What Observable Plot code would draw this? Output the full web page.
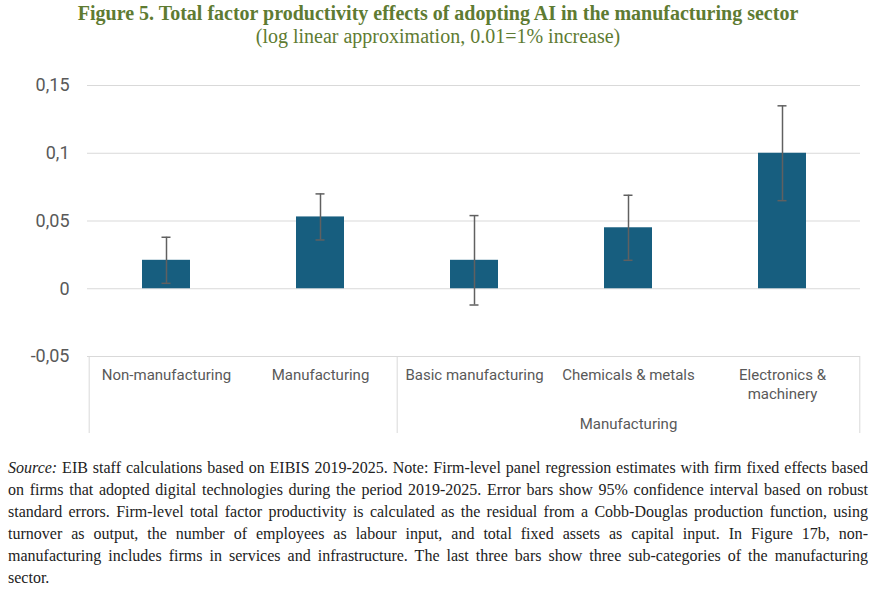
<!DOCTYPE html>
<html>
<head>
<meta charset="utf-8">
<script src="https://cdn.jsdelivr.net/npm/d3@7"></script>
<script src="https://cdn.jsdelivr.net/npm/@observablehq/plot@0.6"></script>
<style>
  html, body { margin: 0; padding: 0; background: #fff; }
  body { width: 876px; }
  #title { height: 60px; text-align: center; color: #5e7b32; font-family: "Liberation Serif", serif; }
  #title .t { font-size: 20px; font-weight: bold; line-height: 20px; padding-top: 3px; }
  #title .s { font-size: 20px; line-height: 21px; margin-top: 3px; }
  #chart svg { display: block; }
  #note { margin-top: 17px; padding: 0 8px; font-family: "Liberation Serif", serif; font-size: 16px; line-height: 22px; color: #222; }
  #note div { text-align: justify; text-align-last: justify; white-space: nowrap; }
  #note div.last { text-align-last: left; }
</style>
</head>
<body>
<div id="title">
  <div class="t">Figure 5. Total factor productivity effects of adopting AI in the manufacturing sector</div>
  <div class="s">(log linear approximation, 0.01=1% increase)</div>
</div>
<div id="chart"></div>
<div id="note"></div>
<script>
// ---- data ----
const categories = ["Non-manufacturing", "Manufacturing", "Basic manufacturing", "Chemicals & metals", "Electronics & machinery"];
const categoryLabels = ["Non-manufacturing", "Manufacturing", "Basic manufacturing", "Chemicals & metals", "Electronics &\nmachinery"];
const values = [0.021, 0.053, 0.021, 0.045, 0.100];
const ciLow  = [0.004, 0.036, -0.012, 0.021, 0.065];
const ciHigh = [0.038, 0.070, 0.054, 0.069, 0.135];
const yTicks = [-0.05, 0, 0.05, 0.1, 0.15];
const groupLabel = "Manufacturing";
const groupMembers = ["Basic manufacturing", "Chemicals & metals", "Electronics & machinery"];

const data = categories.map((c, i) => ({cat: c, value: values[i], lo: ciLow[i], hi: ciHigh[i]}));
const labelOf = Object.fromEntries(categories.map((c, i) => [c, categoryLabels[i]]));
const fmt = d => d === 0 ? "0" : String(d).replace(".", ",");

// ---- layout ----
const W = 876, H = 380, mL = 87, mR = 16, mT = 25, mB = 84;
const step = (W - mL - mR) / categories.length;
const frameH = H - mT - mB;
const grid = "#d9d9d9";

const chart = Plot.plot({
  width: W, height: H,
  marginLeft: mL, marginRight: mR, marginTop: mT, marginBottom: mB,
  style: {color: "#595959", fontFamily: "Roboto, sans-serif", background: "white"},
  x: {type: "band", domain: categories, paddingInner: 0.69, paddingOuter: 0.345},
  y: {domain: [-0.05, 0.15]},
  marks: [
    Plot.ruleY(yTicks, {stroke: grid, strokeWidth: 1}),
    Plot.ruleX([categories[0], categories[2]], {x: d => d, dx: -step / 2, insetTop: frameH, insetBottom: -77, stroke: grid}),
    Plot.ruleX([categories[4]], {x: d => d, dx: step / 2, insetTop: frameH, insetBottom: -77, stroke: grid}),
    Plot.barY(data, {x: "cat", y: "value", fill: "#175e7f"}),
    Plot.ruleX(data, {x: "cat", y1: "lo", y2: "hi", stroke: "#606060", strokeWidth: 1.5}),
    Plot.tickY(data, {x: "cat", y: "hi", stroke: "#606060", strokeWidth: 1.5, insetLeft: 19.5, insetRight: 19.5}),
    Plot.tickY(data, {x: "cat", y: "lo", stroke: "#606060", strokeWidth: 1.5, insetLeft: 19.5, insetRight: 19.5}),
    Plot.axisY({ticks: yTicks, tickFormat: fmt, tickSize: 0, tickPadding: 18, fontSize: 18, label: null}),
    Plot.axisX({tickSize: 0, tickPadding: 10, fontSize: 15, lineHeight: 1.27, tickFormat: d => labelOf[d], label: null}),
    Plot.text([groupLabel], {x: () => groupMembers[1], frameAnchor: "bottom", dy: 72, fontSize: 15, text: d => d})
  ]
});
document.getElementById("chart").appendChild(chart);

// ---- note ----
const noteLines = [
  "<i>Source:</i> EIB staff calculations based on EIBIS 2019-2025. Note: Firm-level panel regression estimates with firm fixed effects based",
  "on firms that adopted digital technologies during the period 2019-2025. Error bars show 95% confidence interval based on robust",
  "standard errors. Firm-level total factor productivity is calculated as the residual from a Cobb-Douglas production function, using",
  "turnover as output, the number of employees as labour input, and total fixed assets as capital input. In Figure 17b, non-",
  "manufacturing includes firms in services and infrastructure. The last three bars show three sub-categories of the manufacturing",
  "sector."
];
document.getElementById("note").innerHTML = noteLines.map((l, i) => `<div class="${i === noteLines.length - 1 ? "last" : ""}">${l}</div>`).join("");
</script>
</body>
</html>
